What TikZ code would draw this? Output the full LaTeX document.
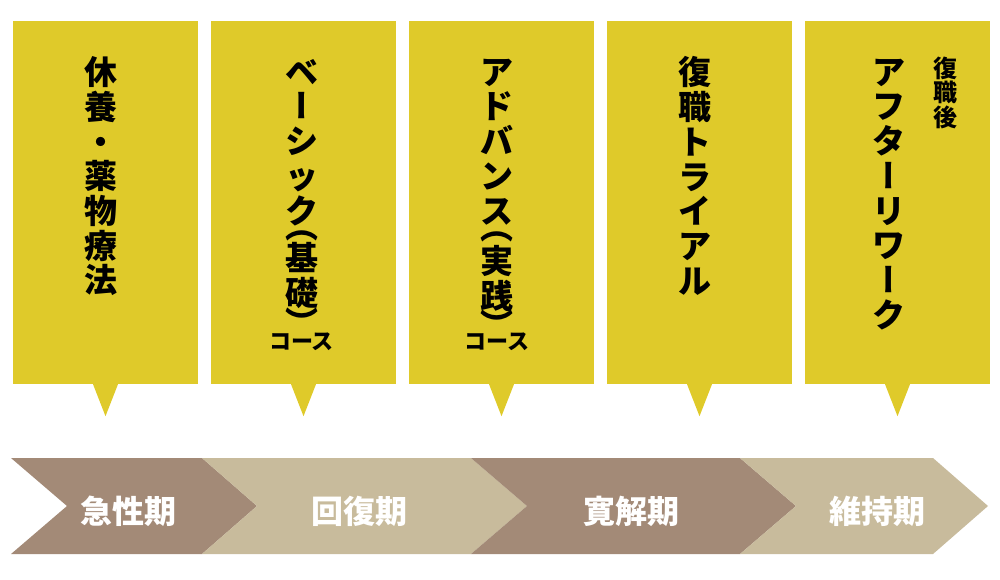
\documentclass[tikz,border=0pt]{standalone}
\usepackage{fontspec}
\newfontfamily\jp{Noto Sans CJK JP}
\newfontfamily\jpv[RawFeature=+vert]{Noto Sans CJK JP}
\newcommand\fixht{\rule{0pt}{27.5pt}}
\newcommand\fixhs{\rule{0pt}{20pt}}
\newcommand\vbar{{\jpv\bfseries ー}}
\definecolor{callY}{HTML}{DFCA2A}
\definecolor{phDark}{HTML}{A38A77}
\definecolor{phLight}{HTML}{C8BB9C}
\tikzset{
  callbox/.style={fill=callY, draw=none, minimum width=185pt, minimum height=363pt, inner sep=0pt},
  ptr/.style={fill=callY, draw=none},
  vtxt/.style={font=\jp\bfseries\fontsize{33}{34.7}\selectfont, align=center, inner sep=0pt, anchor=north, text=black},
  vsmall/.style={font=\jp\bfseries\fontsize{24}{24.3}\selectfont, align=center, inner sep=0pt, anchor=north, text=black},
  paren/.style={font=\jp\bfseries\fontsize{33}{34.7}\selectfont, inner sep=0pt, text=black},
  course/.style={font=\jp\bfseries\fontsize{22}{24}\selectfont, inner sep=0pt, anchor=center, text=black},
  phase/.style={font=\jp\bfseries\fontsize{32}{34}\selectfont, inner sep=0pt, anchor=center, text=white},
}
\begin{document}
\begin{tikzpicture}[x=1pt,y=-1pt]
\useasboundingbox (0,0) rectangle (1000,579);
% callout boxes
\foreach \i/\cx in {1/105.5,2/303.5,3/501.5,4/699.5,5/897.5}{
  \node[callbox] (b\i) at (\cx,202.5) {};
  \fill[ptr] ([xshift=-12.5pt]b\i.south) -- ([yshift=-32pt]b\i.south) -- ([xshift=12.5pt]b\i.south) -- cycle;
}
% box 1
\node[vtxt] (t1) at (101,56.5) {\fixht 休\\養\\・\\薬\\物\\療\\法};
% box 2
\node[vtxt] (t2) at (301.5,56.5) {\fixht ベ\\\vbar\\シ\\ッ\\ク};
\node[paren, anchor=center] (t2o) at (301.5,235.5) {︵};
\node[vtxt] (t2k) at (301.5,242) {\fixht 基\\礎};
\node[paren, anchor=north] (t2c) at (301.5,307.5) {︶};
\node[course] (t2s) at (301.5,341.5) {コース};
% box 3
\node[vtxt] (t3) at (497,56.5) {\fixht ア\\ド\\バ\\ン\\ス};
\node[paren, anchor=center] (t3o) at (497,236.5) {︵};
\node[vtxt] (t3k) at (497,245) {\fixht 実\\践};
\node[paren, anchor=north] (t3c) at (497,310) {︶};
\node[course] (t3s) at (497,341.5) {コース};
% box 4
\node[vtxt] (t4) at (695,56.5) {\fixht 復\\職\\ト\\ラ\\イ\\ア\\ル};
% box 5
\node[vtxt] (t5) at (889,56.5) {\fixht ア\\フ\\タ\\\vbar\\リ\\ワ\\\vbar\\ク};
\node[vsmall] (t5s) at (945,56.7) {\fixhs 復\\職\\後};
% phase chevrons
\fill[phDark]  (11,458) -- (202,458) -- (257,506) -- (202,554) -- (11,554) -- (67,506) -- cycle;
\fill[phLight] (202,458) -- (471,458) -- (527,506) -- (471,554) -- (202,554) -- (257,506) -- cycle;
\fill[phDark]  (471,458) -- (740,458) -- (796,506) -- (740,554) -- (471,554) -- (527,506) -- cycle;
\fill[phLight] (740,458) -- (933,458) -- (988,506) -- (933,554) -- (740,554) -- (796,506) -- cycle;
\node[phase] (p1) at (128,511) {急性期};
\node[phase] (p2) at (359,511) {回復期};
\node[phase] (p3) at (631,511) {寛解期};
\node[phase] (p4) at (877,511) {維持期};
\end{tikzpicture}
\end{document}
